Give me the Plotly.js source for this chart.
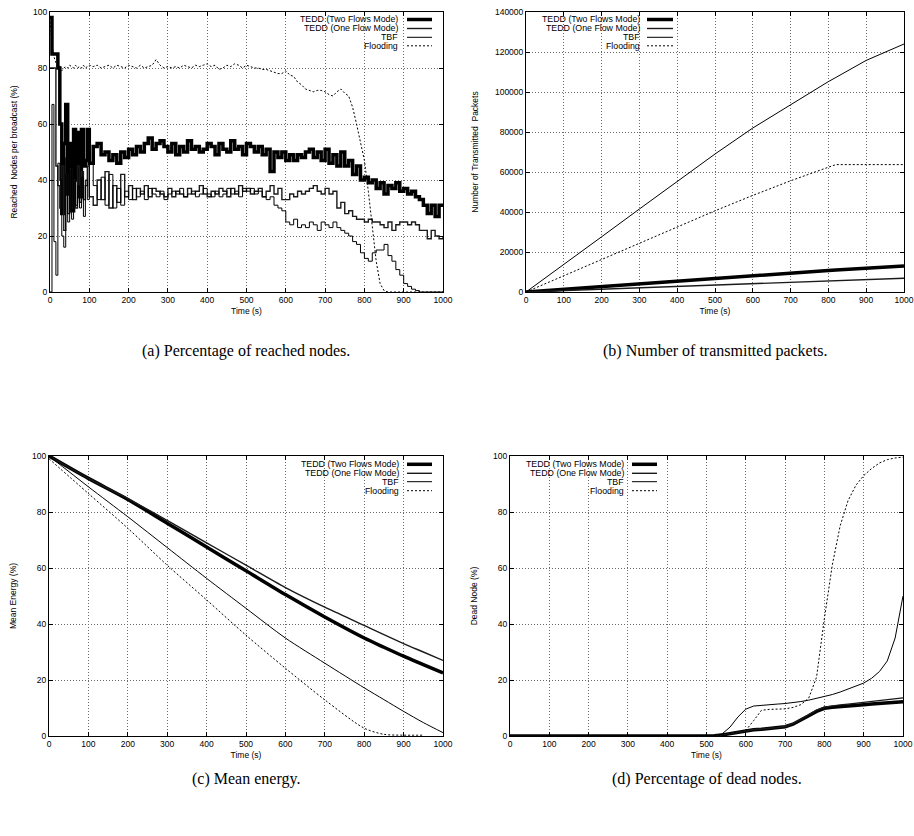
<!DOCTYPE html>
<html><head><meta charset="utf-8">
<script src="https://cdn.plot.ly/plotly-3.0.1.min.js"></script>
<style>html,body{margin:0;padding:0;background:#fff}</style>
</head><body><div id="chart" style="width:914px;height:836px"></div>
<script>
// ---------------- DATA ----------------
const seriesNames = ["TEDD (Two Flows Mode)", "TEDD (One Flow Mode)", "TBF", "Flooding"];
const xTicks = [0,100,200,300,400,500,600,700,800,900,1000];

// (a) Reached nodes per broadcast (%)
const reachedTime = [0,5,10,15,20,25,30,35,40,45,50,55,60,65,70,75,80,85,90,95,100,
 110,120,130,140,150,160,170,180,190,200,
 210,220,230,240,250,260,270,280,290,300,
 310,320,330,340,350,360,370,380,390,400,
 410,420,430,440,450,460,470,480,490,500,
 510,520,530,540,550,560,570,580,590,600,
 610,620,630,640,650,660,670,680,690,700,
 710,720,730,740,750,760,770,780,790,800,
 810,820,830,840,850,860,870,880,890,900,
 910,920,930,940,950,960,970,980,990,1000];
const reachedTwoFlows = [98,85,85,85,80,60,28,53,67,35,53,29,58,40,57,34,58,45,47,58,46,
 52,53,49,50,47,49,46,50,48,51,
 49,52,50,53,55,51,53,54,52,50,
 53,49,52,50,54,51,52,50,51,53,
 52,49,53,51,50,54,51,52,49,53,
 52,50,52,49,51,43,50,48,50,47,
 49,47,49,48,50,51,48,50,47,51,
 46,49,45,50,45,47,42,45,40,41,
 39,40,37,39,35,38,37,39,36,37,
 35,36,34,33,31,28,31,27,31,31];
const reachedOneFlow = [80,80,80,45,38,30,45,22,42,28,44,30,40,30,45,32,43,33,38,45,34,
 31,40,33,43,30,38,32,42,34,38,
 33,37,35,38,34,37,36,35,34,37,
 34,36,35,34,37,35,36,38,35,34,
 36,35,37,36,34,37,35,38,36,37,
 35,36,37,34,36,38,35,37,33,33,
 35,34,36,35,36,37,38,36,35,37,
 35,36,30,32,28,29,27,26,26,25,
 26,25,25,24,23,25,22,24,25,25,
 24,25,24,22,22,19,22,20,19,20];
const reachedTBF = [0,67,18,6,46,40,20,16,48,25,46,26,42,31,38,30,41,27,40,33,46,
 38,33,41,31,42,30,37,31,36,33,
 37,34,36,33,37,35,34,36,33,35,
 36,35,37,34,35,36,34,35,37,35,
 34,36,34,35,37,35,36,34,37,36,
 37,35,36,34,33,34,31,30,29,25,
 24,26,23,24,23,25,24,22,25,24,
 23,25,23,22,21,20,18,17,14,12,
 11,14,15,15,17,13,11,8,6,3,
 2,1,0.5,0,0,0,0,0,0,0];
const reachedFlooding = [98,88,84,82,80,81,79,80,80.5,80,81,80.5,80,81,80,80.5,80,81,80,80.5,81,
 80.5,81,80,80.5,81,80,81,80.5,80,81,
 80.5,80,81,80,80.5,81,83,81,80,80.5,
 80,80.5,80,81,80.5,80,81,80.5,81,81.5,
 80.5,81,79.5,80,81,80.5,81.5,81,80,81,
 80.5,80,80,79.5,79.5,79,78.5,78,78,79,
 77.5,77,75,74,72.5,72,71.5,72,72,71.5,
 70.5,70,71.5,72.5,71,70,66,60,54,47,
 36,23,11,3,0.5,0,0,0,0,0,
 0,0,0,0,0,0,0,0,0,0];

// (b) Number of transmitted packets
const packetTime = [0,100,200,300,400,500,600,700,800,820,900,1000];
const packetTwoFlows = [0,1400,2700,4000,5300,6700,8000,9400,10800,11000,12000,13000];
const packetOneFlow = [0,700,1400,2100,2800,3500,4200,4900,5600,5700,6300,6900];
const packetTBF = [0,14000,27600,41500,55300,69000,82000,93800,105200,107300,115800,124000];
const packetFlooding = [0,8200,16400,24500,32600,40600,48300,55600,62400,63700,63700,63700];
const packetTicks = [0,20000,40000,60000,80000,100000,120000,140000];

// (c) Mean energy (%)
const energyTime = [0,100,200,300,400,500,600,700,800,850,900,950,1000];
const energyTwoFlows = [100,92,84.5,76,67.5,59,50.5,42.5,35,31.7,28.5,25.5,22.5];
const energyOneFlow = [100,92,84.8,77,69,61,53,46,39.5,36.2,33,30,27];
const energyTBF = [100,89,78.3,67.3,56.3,45.6,35,26,17.2,13,8.8,4.8,1.2];
const energyFlooding = [99,86.6,74.2,61,48.6,36,24.2,12.9,2.8,0.6,0.3,0.3,null];

// (d) Dead nodes (%)
const deadTime = [0,100,200,300,400,500,520,540,560,580,600,620,640,660,680,700,720,740,760,780,800,820,840,860,880,900,920,940,960,980,1000];
const deadTwoFlows = [0,0,0,0,0,0,0.1,0.4,0.9,1.4,1.9,2.2,2.4,2.6,2.9,3.3,4.2,5.6,7.2,8.8,9.9,10.3,10.6,10.8,11,11.2,11.4,11.6,11.8,12,12.2];
const deadOneFlow = [0,0,0,0,0,0,0.1,0.4,0.9,1.5,2.0,2.3,2.5,2.7,3.0,3.4,4.4,5.9,7.6,9.2,10.3,10.8,11.1,11.4,11.7,12,12.3,12.6,12.9,13.2,13.6];
const deadTBF = [0,0,0,0,0,0,0.2,0.8,3.2,6.8,9.6,10.7,11,11.2,11.4,11.6,11.9,12.3,12.8,13.4,14,14.8,15.7,16.7,17.7,18.9,20.6,23,26.8,35,50];
const deadFlooding = [0,0,0,0,0,0,0.1,0.3,0.8,1.4,2.0,5.5,9.2,9.5,9.6,9.7,10.2,11.2,13.5,21,42,61,75,84,89.5,93,95.5,97.5,98.7,99.3,99.6];
const pctTicks = [0,20,40,60,80,100];

const captions = ["(a) Percentage of reached nodes.", "(b) Number of transmitted packets.", "(c) Mean energy.", "(d) Percentage of dead nodes."];
const yTitles = ["Reached\u00a0 Nodes per broadcast (%)", "Number of Transmitted\u00a0 Packets", "Mean Energy (%)", "Dead Node (%)"];

// ---------------- LAYOUT ----------------
const W = 914, H = 836;
const fx = p => p / W, fy = p => 1 - p / H;
const SANS = "Liberation Sans, Arial, Helvetica, sans-serif";
const SERIF = "Liberation Serif, Times New Roman, serif";

const panels = [
  {x0:50, x1:443, y0:12, y1:292, yr:[0,100], yt:pctTicks, legendSide:'right', capY:351,
   box:[300,52], textRight:400, sample:[407,432], rows:[19.5,28.5,37.3,45.8], shape:'hv'},
  {x0:526, x1:904, y0:12, y1:292, yr:[0,140000], yt:packetTicks, legendSide:'left', capY:351,
   box:[676,52], textRight:641.5, sample:[647,673], rows:[19.5,28.5,37.3,45.8], shape:'linear'},
  {x0:49, x1:443, y0:456, y1:736, yr:[0,100], yt:pctTicks, legendSide:'right', capY:779,
   box:[300,496], textRight:401, sample:[407,432], rows:[464.3,473.3,481.7,490.7], shape:'spline'},
  {x0:510, x1:903, y0:456, y1:736, yr:[0,100], yt:pctTicks, legendSide:'left', capY:779,
   box:[658,496], textRight:626, sample:[632,657], rows:[464.3,473.3,481.7,490.7], shape:'linear'}
];

const styles = [
  {color:'#000', width:3.5},
  {color:'#1a1a1a', width:1.4},
  {color:'#000', width:1},
  {color:'#000', width:1, dash:'2px,2px'}
];

const dataSets = [
  [reachedTime, [reachedTwoFlows, reachedOneFlow, reachedTBF, reachedFlooding]],
  [packetTime, [packetTwoFlows, packetOneFlow, packetTBF, packetFlooding]],
  [energyTime, [energyTwoFlows, energyOneFlow, energyTBF, energyFlooding]],
  [deadTime, [deadTwoFlows, deadOneFlow, deadTBF, deadFlooding]]
];

const traces = [];
const layout = {
  width: W, height: H, margin:{l:0,r:0,t:0,b:0},
  paper_bgcolor:'#fff', plot_bgcolor:'#fff', showlegend:false,
  font:{family:SANS, color:'#000', size:8.5},
  annotations:[], shapes:[]
};

panels.forEach((p, i) => {
  const n = i === 0 ? '' : String(i + 1);
  const xa = 'x' + n, ya = 'y' + n;
  const [t, ys] = dataSets[i];
  ys.forEach((vals, k) => {
    const st = styles[k];
    let shape = p.shape;
    if (i === 0 && k === 3) shape = 'linear';
    traces.push({
      type:'scatter', mode:'lines', x:t, y:vals, xaxis:xa, yaxis:ya,
      name: seriesNames[k], connectgaps:false, hoverinfo:'skip',
      line:Object.assign({shape:shape, smoothing:0.8}, st)
    });
  });
  const common = {
    showline:true, linecolor:'#000', linewidth:1, mirror:'ticks',
    ticks:'inside', ticklen:4, tickwidth:1, tickcolor:'#000',
    showgrid:true, gridcolor:'#6a6a6a', griddash:'1px,2px', gridwidth:1,
    zeroline:false, fixedrange:true,
    tickfont:{family:SANS, size:8.5, color:'#000'}
  };
  layout['xaxis' + n] = Object.assign({}, common, {
    domain:[fx(p.x0), fx(p.x1)], anchor:ya, range:[0,1000],
    tickmode:'array', tickvals:xTicks,
    title:{text:'Time (s)', font:{family:SANS, size:8.5, color:'#000'}, standoff:3}
  });
  layout['yaxis' + n] = Object.assign({}, common, {
    domain:[fy(p.y1), fy(p.y0)], anchor:xa, range:p.yr,
    tickmode:'array', tickvals:p.yt, tickformat:'d',
    title:{text:yTitles[i], font:{family:SANS, size:8.5, color:'#000'}, standoff:14}
  });
  // legend white box (hides grid behind key)
  const bx0 = p.legendSide === 'right' ? p.box[0] : p.x0 + 1;
  const bx1 = p.legendSide === 'right' ? p.x1 - 1 : p.box[0];
  layout.shapes.push({type:'rect', xref:'paper', yref:'paper', layer:'between',
    x0:fx(bx0), x1:fx(bx1), y0:fy(p.y0 + 1), y1:fy(p.box[1]),
    fillcolor:'#fff', line:{width:0}});
  // legend entries
  seriesNames.forEach((nm, k) => {
    const yy = p.rows[k];
    layout.annotations.push({xref:'paper', yref:'paper', x:fx(p.textRight), y:fy(yy),
      xanchor:'right', yanchor:'middle', showarrow:false, text:nm,
      font:{family:SANS, size:8.8, color:'#000'}});
    layout.shapes.push({type:'line', xref:'paper', yref:'paper', layer:'above',
      x0:fx(p.sample[0]), x1:fx(p.sample[1]), y0:fy(yy), y1:fy(yy),
      line:Object.assign({}, styles[k])});
  });
  // caption
  layout.annotations.push({xref:'paper', yref:'paper', x:fx((p.x0 + p.x1) / 2), y:fy(p.capY),
    xanchor:'center', yanchor:'middle', showarrow:false, text:captions[i],
    font:{family:SERIF, size:16, color:'#000'}});
});

Plotly.newPlot('chart', traces, layout, {staticPlot:true, displayModeBar:false});
</script>
</body></html>
